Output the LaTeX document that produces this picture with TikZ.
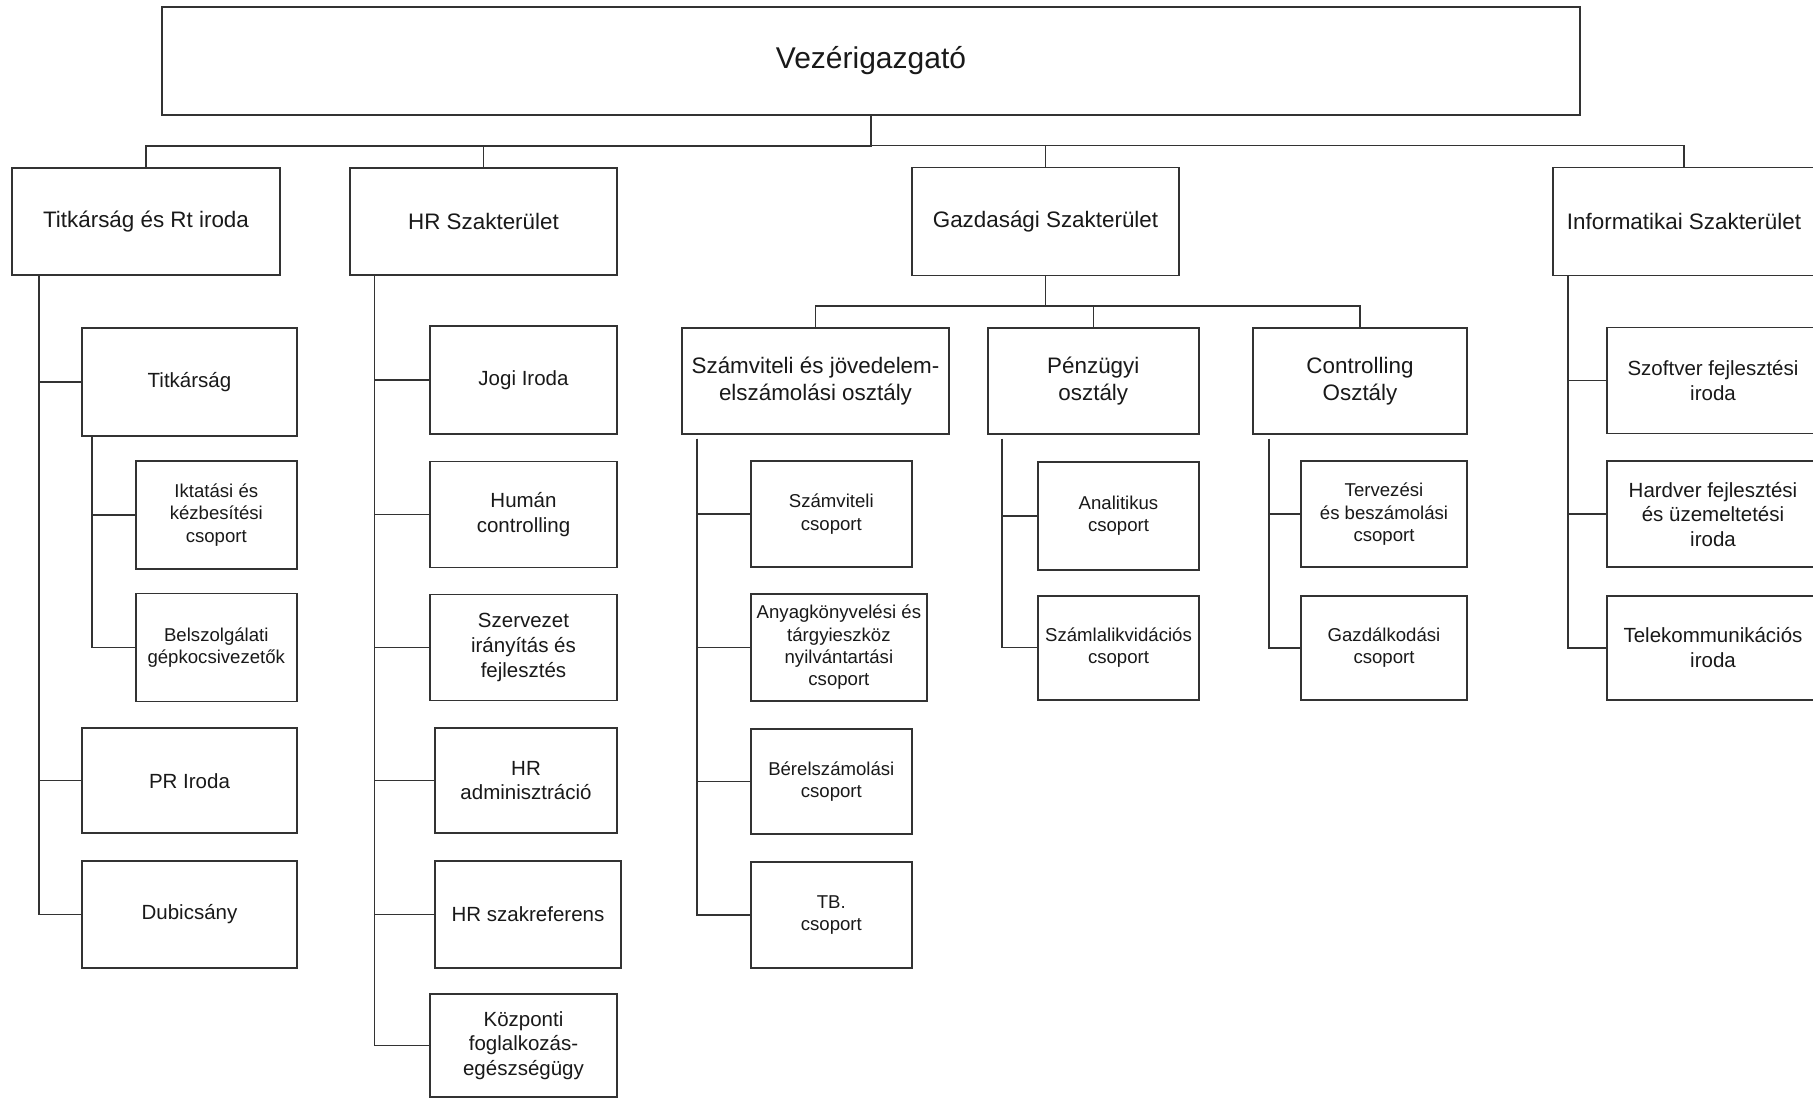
\documentclass[tikz,border=0pt]{standalone}
\usepackage{fontspec}
\setmainfont{Liberation Sans}
\usepackage{tikz}

\begin{document}
\begin{tikzpicture}[
  x=1pt, y=-1pt,
  box/.style={draw=black!80, line width=1.7pt, align=center, inner sep=2pt, text=black!90},
  chief/.style={box, font=\fontsize{30}{36}\selectfont},
  dept/.style={box, font=\fontsize{22.4}{27}\selectfont},
  office/.style={box, font=\fontsize{20.5}{24.6}\selectfont},
  grp/.style={box, font=\fontsize{18.6}{22.3}\selectfont},
  conn/.style={draw=black!80, line width=1.5pt}
]
\fill[white] (0,0) rectangle (1813,1099);
\useasboundingbox (0,0) rectangle (1813,1099);

% Vezérigazgató
\node[chief, minimum width=1418pt, minimum height=108pt] (ceo) at (871,61) {Vezérigazgató};

% 1. szint - szakterületek
\node[dept, minimum width=268pt, minimum height=107pt] (titk) at (146,221.5) {Titkárság és Rt iroda};
\node[dept, minimum width=267pt, minimum height=107pt] (hr) at (483.5,221.5) {HR Szakterület};
\node[dept, minimum width=267pt, minimum height=108pt] (gazd) at (1045.5,221.5) {Gazdasági Szakterület};
\node[dept, minimum width=262pt, minimum height=108pt] (info) at (1684,221.5) {Informatikai Szakterület};

% Titkárság és Rt iroda
\node[office, minimum width=215pt, minimum height=108pt] (titkarsag) at (189.5,382) {Titkárság};
\node[grp, minimum width=161pt, minimum height=108pt] (iktat) at (216.3,515) {Iktatási és\\kézbesítési\\csoport};
\node[grp, minimum width=161pt, minimum height=108pt] (belszolg) at (216.3,647.5) {Belszolgálati\\gépkocsivezetők};
\node[office, minimum width=215pt, minimum height=105pt] (pr) at (189.5,780.7) {PR Iroda};
\node[office, minimum width=215pt, minimum height=107pt] (dub) at (189.5,914.5) {Dubicsány};

% HR Szakterület
\node[office, minimum width=187pt, minimum height=108pt] (jogi) at (523.5,380) {Jogi Iroda};
\node[office, minimum width=187pt, minimum height=106pt] (human) at (523.5,514.5) {Humán\\controlling};
\node[office, minimum width=187pt, minimum height=106pt] (szerv) at (523.5,647.5) {Szervezet\\irányítás és\\fejlesztés};
\node[office, minimum width=182pt, minimum height=105pt] (hradm) at (526,780.7) {HR\\adminisztráció};
\node[office, minimum width=186pt, minimum height=107pt] (hrszak) at (528,914.5) {HR szakreferens};
\node[office, minimum width=187pt, minimum height=103pt] (kozp) at (523.5,1045.5) {Központi\\foglalkozás-\\egészségügy};

% Gazdasági Szakterület - osztályok
\node[dept, minimum width=267pt, minimum height=106pt] (szamv) at (815.5,381) {Számviteli és jövedelem-\\elszámolási osztály};
\node[dept, minimum width=211pt, minimum height=106pt] (penz) at (1093.3,381) {Pénzügyi\\osztály};
\node[dept, minimum width=214pt, minimum height=106pt] (contr) at (1360,381) {Controlling\\Osztály};

% csoportok
\node[grp, minimum width=161pt, minimum height=106pt] (szcs) at (831.3,514.2) {Számviteli\\csoport};
\node[grp, minimum width=176pt, minimum height=107pt] (anyag) at (838.9,647.3) {Anyagkönyvelési és\\tárgyieszköz\\nyilvántartási\\csoport};
\node[grp, minimum width=161pt, minimum height=105pt] (berel) at (831.3,781.3) {Bérelszámolási\\csoport};
\node[grp, minimum width=161pt, minimum height=106pt] (tb) at (831.3,915) {TB.\\csoport};
\node[grp, minimum width=161pt, minimum height=108pt] (anal) at (1118.5,516) {Analitikus\\csoport};
\node[grp, minimum width=161pt, minimum height=104pt] (szamla) at (1118.5,647.7) {Számlalikvidációs\\csoport};
\node[grp, minimum width=166pt, minimum height=106pt] (terv) at (1384,514.2) {Tervezési\\és beszámolási\\csoport};
\node[grp, minimum width=166pt, minimum height=104pt] (gazdalk) at (1384,647.8) {Gazdálkodási\\csoport};

% Informatikai Szakterület
\node[office, minimum width=212pt, minimum height=106pt] (szoft) at (1713,380.6) {Szoftver fejlesztési\\iroda};
\node[office, minimum width=212pt, minimum height=106pt] (hard) at (1713,514.2) {Hardver fejlesztési\\és üzemeltetési\\iroda};
\node[office, minimum width=212pt, minimum height=104pt] (tele) at (1713,647.8) {Telekommunikációs\\iroda};

% Vonalak
\foreach \k in {titk,hr,gazd,info}
  \draw[conn] (\k.north) -- ++(0,-21) -| (ceo.south);
\foreach \k in {titkarsag,pr,dub}
  \draw[conn] ([xshift=28pt]titk.south west) |- (\k.west);
\foreach \k in {iktat,belszolg}
  \draw[conn] ([xshift=11pt]titkarsag.south west) |- (\k.west);
\foreach \k in {jogi,human,szerv,hradm,hrszak,kozp}
  \draw[conn] ([xshift=25.5pt]hr.south west) |- (\k.west);
\foreach \k in {szamv,penz,contr}
  \draw[conn] (\k.north) -- ++(0,-21) -| (gazd.south);
\foreach \k in {szcs,anyag,berel,tb}
  \draw[conn] ([xshift=16pt,yshift=-4pt]szamv.south west) |- (\k.west);
\foreach \k in {anal,szamla}
  \draw[conn] ([xshift=15pt,yshift=-4pt]penz.south west) |- (\k.west);
\foreach \k in {terv,gazdalk}
  \draw[conn] ([xshift=17pt,yshift=-4pt]contr.south west) |- (\k.west);
\foreach \k in {szoft,hard,tele}
  \draw[conn] ([xshift=16pt]info.south west) |- (\k.west);
\end{tikzpicture}
\end{document}
